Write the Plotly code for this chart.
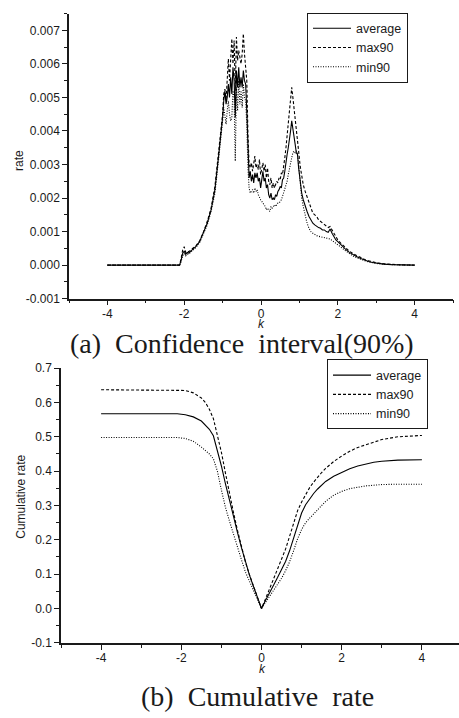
import numpy as np
import plotly.graph_objects as go

# ---------------- (a) rate, values in units of 1e-3 ----------------
k_a = [-4.0, -2.12, -2.08, -2.04, -2.0, -1.96, -1.92, -1.88, -1.8, -1.7, -1.6, -1.5, -1.4, -1.3, -1.2, -1.1, -1.05, -1.0,
       -0.97, -0.94, -0.91, -0.88, -0.85, -0.82, -0.79, -0.76, -0.73, -0.70, -0.67, -0.64, -0.61, -0.58, -0.55, -0.52,
       -0.49, -0.46, -0.43, -0.40, -0.37, -0.34, -0.31, -0.28, -0.25, -0.22, -0.19, -0.16, -0.13, -0.10, -0.07, -0.04,
       -0.01, 0.02, 0.05, 0.08, 0.11, 0.14, 0.17, 0.20, 0.23, 0.26, 0.29, 0.32, 0.35, 0.38, 0.41, 0.44, 0.47, 0.50,
       0.53, 0.56, 0.59, 0.62, 0.65, 0.68, 0.71, 0.74, 0.77, 0.80, 0.83, 0.86, 0.89, 0.92, 0.95, 0.98, 1.02, 1.06,
       1.10, 1.15, 1.20, 1.25, 1.30, 1.35, 1.40, 1.45, 1.50, 1.55, 1.60, 1.65, 1.70, 1.75, 1.80, 1.85, 1.90, 1.95,
       2.0, 2.1, 2.2, 2.3, 2.4, 2.5, 2.6, 2.7, 2.8, 2.9, 3.0, 3.2, 3.4, 3.6, 3.8, 4.0]

avg_a_e3 = [0, 0, 0.15, 0.35, 0.42, 0.32, 0.38, 0.36, 0.45, 0.55, 0.70, 0.95, 1.25, 1.65, 2.25, 3.3, 3.8, 4.4,
            4.9, 5.2, 4.8, 5.0, 5.4, 5.0, 5.6, 5.1, 5.9, 5.5, 4.4, 5.8, 5.3, 5.9, 5.3, 5.6,
            5.3, 5.8, 5.5, 5.4, 4.6, 3.3, 2.6, 2.8, 2.5, 2.7, 2.45, 2.75, 2.6, 2.75, 2.5, 2.6,
            2.3, 2.55, 2.8, 2.5, 2.6, 2.3, 2.4, 2.1, 2.0, 2.15, 1.95, 2.0, 1.95, 2.1, 2.05, 2.2, 2.25, 2.35,
            2.3, 2.55, 2.6, 2.8, 3.1, 3.3, 3.5, 3.7, 4.0, 4.3, 4.1, 3.9, 3.6, 3.35, 3.3, 2.9, 2.45, 2.15,
            1.95, 1.75, 1.6, 1.45, 1.35, 1.25, 1.2, 1.15, 1.12, 1.1, 1.05, 1.05, 1.0, 0.98, 1.08, 0.95, 0.85, 0.75,
            0.7, 0.58, 0.48, 0.38, 0.31, 0.25, 0.2, 0.15, 0.11, 0.08, 0.06, 0.03, 0.015, 0.008, 0.003, 0.001]

max_a_e3 = [0, 0, 0.2, 0.45, 0.55, 0.38, 0.42, 0.40, 0.48, 0.57, 0.72, 0.98, 1.30, 1.70, 2.35, 3.4, 3.95, 4.5,
            5.1, 5.25, 4.9, 5.6, 6.15, 5.5, 6.3, 6.75, 6.0, 6.7, 5.2, 6.8, 6.1, 6.4, 6.2, 6.0,
            6.3, 6.9, 6.3, 5.9, 5.5, 3.9, 3.0, 2.9, 3.05, 2.8, 3.1, 3.25, 2.9, 3.0, 2.85, 3.15,
            2.7, 2.95, 3.05, 2.8, 3.0, 2.6, 2.9, 2.5, 2.4, 2.6, 2.3, 2.45, 2.3, 2.4, 2.5, 2.45, 2.6, 2.55,
            2.75, 2.7, 2.9, 3.2, 3.5, 3.9, 4.3, 4.7, 5.0, 5.3, 5.0, 4.7, 4.4, 4.15, 3.8, 3.4, 2.95, 2.6,
            2.4, 2.2, 2.05, 1.85, 1.7, 1.55, 1.5, 1.45, 1.35, 1.3, 1.25, 1.2, 1.15, 1.12, 1.15, 1.05, 0.92, 0.82,
            0.75, 0.63, 0.52, 0.42, 0.34, 0.28, 0.22, 0.17, 0.13, 0.10, 0.07, 0.04, 0.02, 0.01, 0.004, 0.001]

min_a_e3 = [0, 0, 0.1, 0.28, 0.35, 0.28, 0.33, 0.33, 0.42, 0.52, 0.67, 0.92, 1.20, 1.60, 2.15, 3.2, 3.7, 4.3,
            4.7, 4.45, 4.2, 4.6, 4.9, 4.5, 4.3, 4.4, 5.2, 5.0, 3.1, 5.3, 4.6, 5.5, 4.8, 5.2,
            4.7, 5.4, 5.0, 4.9, 4.2, 2.9, 2.3, 2.15, 2.2, 2.25, 2.15, 2.3, 2.2, 2.25, 2.1, 2.0,
            1.95, 1.9, 1.85, 1.8, 1.75, 1.65, 1.7, 1.65, 1.6, 1.75, 1.7, 1.75, 1.8, 1.75, 1.8, 1.85, 1.85, 1.9,
            1.95, 2.05, 2.15, 2.25, 2.35, 2.5, 2.7, 2.9, 3.05, 3.2, 3.35, 3.4, 3.35, 3.4, 3.35, 3.0, 2.45, 2.0,
            1.75, 1.45, 1.25, 1.1, 1.0, 0.95, 0.9, 0.88, 0.86, 0.85, 0.84, 0.83, 0.82, 0.8, 0.78, 0.74, 0.7, 0.66,
            0.62, 0.52, 0.43, 0.34, 0.27, 0.22, 0.17, 0.13, 0.10, 0.07, 0.05, 0.025, 0.012, 0.006, 0.002, 0.0]

# ---------------- (b) cumulative rate ----------------
k_b = [-4.0, -2.1, -1.9, -1.7, -1.5, -1.4, -1.3, -1.2, -1.1, -1.0, -0.9, -0.8, -0.7, -0.6, -0.5, -0.4, -0.3, -0.2,
       -0.1, 0.0, 0.1, 0.2, 0.3, 0.4, 0.5, 0.6, 0.7, 0.8, 0.9, 1.0, 1.1, 1.2, 1.3, 1.4, 1.5, 1.6, 1.8, 2.0, 2.2,
       2.4, 2.6, 2.8, 3.0, 3.4, 4.0]
avg_b = [0.567, 0.567, 0.564, 0.558, 0.546, 0.535, 0.522, 0.503, 0.462, 0.415, 0.364, 0.314, 0.268, 0.222, 0.177,
         0.133, 0.097, 0.064, 0.032, 0.0, 0.023, 0.047, 0.068, 0.09, 0.112, 0.137, 0.168, 0.205, 0.245, 0.278,
         0.302, 0.32, 0.335, 0.348, 0.36, 0.37, 0.385, 0.397, 0.407, 0.415, 0.421, 0.426, 0.429, 0.432, 0.433]
max_b = [0.637, 0.637, 0.635, 0.628, 0.613, 0.600, 0.580, 0.553, 0.505, 0.455, 0.395, 0.335, 0.280, 0.228, 0.180,
         0.135, 0.098, 0.065, 0.033, 0.0, 0.028, 0.057, 0.085, 0.115, 0.143, 0.173, 0.21, 0.25, 0.285, 0.31,
         0.333, 0.352, 0.368, 0.383, 0.396, 0.408, 0.428, 0.444, 0.458, 0.469, 0.477, 0.486, 0.492, 0.5, 0.504]
min_b = [0.498, 0.498, 0.495, 0.487, 0.470, 0.460, 0.450, 0.436, 0.400, 0.345, 0.295, 0.255, 0.215, 0.178, 0.142,
         0.106, 0.078, 0.052, 0.026, 0.0, 0.017, 0.035, 0.052, 0.069, 0.088, 0.11, 0.136, 0.168, 0.203, 0.23,
         0.25, 0.263, 0.276, 0.289, 0.3, 0.312, 0.33, 0.341, 0.349, 0.354, 0.357, 0.359, 0.361, 0.362, 0.362]

series_names = ["average", "max90", "min90"]
x_tick_vals = [-4, -2, 0, 2, 4]
x_tick_text = ["-4", "-2", "0", "2", "4"]
ya_tick_vals = [-0.001, 0.0, 0.001, 0.002, 0.003, 0.004, 0.005, 0.006, 0.007]
ya_tick_text = ["-0.001", "0.000", "0.001", "0.002", "0.003", "0.004", "0.005", "0.006", "0.007"]
yb_tick_vals = [-0.1, 0.0, 0.1, 0.2, 0.3, 0.4, 0.5, 0.6, 0.7]
yb_tick_text = ["-0.1", "0.0", "0.1", "0.2", "0.3", "0.4", "0.5", "0.6", "0.7"]

W, H = 459, 718
FONT = "Liberation Sans, Arial, sans-serif"
INK = "#1a1a1a"

styles = [dict(color="black", width=1.1, dash="solid"),
          dict(color="black", width=1.1, dash="3px,2px"),
          dict(color="black", width=1.1, dash="1px,1.5px")]

fig = go.Figure()
ya_series = [np.array(avg_a_e3) * 1e-3, np.array(max_a_e3) * 1e-3, np.array(min_a_e3) * 1e-3]
for name, ys, st in zip(series_names, ya_series, styles):
    fig.add_trace(go.Scatter(x=k_a, y=ys, mode="lines", name=name, line=st,
                             xaxis="x", yaxis="y", legend="legend"))
yb_series = [avg_b, max_b, min_b]
for name, ys, st in zip(series_names, yb_series, styles):
    fig.add_trace(go.Scatter(x=k_b, y=ys, mode="lines", name=name, line=st,
                             xaxis="x2", yaxis="y2", legend="legend2"))


def px_x(x):
    return x / W


def px_y(y):
    return 1 - y / H


axis_common = dict(showline=True, linecolor=INK, linewidth=1.5, ticks="outside", ticklen=5,
                   tickwidth=1.2, tickcolor=INK, showgrid=False, zeroline=False, mirror=False,
                   tickfont=dict(family=FONT, size=12, color=INK))

fig.update_layout(
    width=W, height=H, autosize=False,
    margin=dict(l=0, r=0, t=0, b=0),
    paper_bgcolor="white", plot_bgcolor="white",
    xaxis=dict(domain=[px_x(69), px_x(453)], anchor="y", range=[-5, 5],
               tickmode="array", tickvals=x_tick_vals, ticktext=x_tick_text, ticklabelstandoff=-2,
               minor=dict(ticks="outside", ticklen=3, tickcolor=INK, dtick=1, tick0=0), **axis_common),
    yaxis=dict(domain=[px_y(297.5), px_y(6.7)], anchor="x", range=[-0.001, 0.0075],
               tickmode="array", tickvals=ya_tick_vals, ticktext=ya_tick_text,
               minor=dict(ticks="outside", ticklen=3, tickcolor=INK, dtick=0.0005, tick0=0), **axis_common),
    xaxis2=dict(domain=[px_x(61), 1.0], anchor="y2", range=[-5, 4.925],
                tickmode="array", tickvals=x_tick_vals, ticktext=x_tick_text, ticklabelstandoff=-2,
                minor=dict(ticks="outside", ticklen=3, tickcolor=INK, dtick=1, tick0=0), **axis_common),
    yaxis2=dict(domain=[px_y(648.5), px_y(368.3)], anchor="x2", range=[-0.1, 0.7],
                tickmode="array", tickvals=yb_tick_vals, ticktext=yb_tick_text,
                minor=dict(ticks="outside", ticklen=3, tickcolor=INK, dtick=0.05, tick0=0), **axis_common),
    legend=dict(x=px_x(307), y=px_y(5.7), xanchor="left", yanchor="top",
                bordercolor=INK, borderwidth=1, bgcolor="white", itemwidth=38,
                font=dict(family=FONT, size=12.5, color=INK)),
    legend2=dict(x=px_x(327), y=px_y(359.5), xanchor="left", yanchor="top",
                 bordercolor=INK, borderwidth=1, bgcolor="white", itemwidth=38,
                 font=dict(family=FONT, size=12.5, color=INK)),
)

NB = "\u00a0"
annots = [
    dict(text="rate", x=px_x(19), y=px_y(157), textangle=-90, font=dict(family=FONT, size=12, color=INK)),
    dict(text="<i>k</i>", x=px_x(261), y=px_y(323.5), font=dict(family=FONT, size=12, color=INK)),
    dict(text="(a)" + NB + NB + "Confidence" + NB + NB + "interval(90%)", x=px_x(242), y=px_y(343.5),
         font=dict(family="Liberation Serif, DejaVu Serif, serif", size=28, color=INK)),
    dict(text="Cumulative rate", x=px_x(21.5), y=px_y(500), textangle=-90,
         font=dict(family=FONT, size=12, color=INK)),
    dict(text="<i>k</i>", x=px_x(262), y=px_y(675.5), font=dict(family=FONT, size=12, color=INK)),
    dict(text="(b)" + NB + NB + "Cumulative" + NB + NB + "rate", x=px_x(257), y=px_y(703),
         font=dict(family="Liberation Serif, DejaVu Serif, serif", size=28, color=INK)),
]
for a in annots:
    fig.add_annotation(xref="paper", yref="paper", xanchor="center", yanchor="middle",
                       showarrow=False, **a)

fig.write_html("out.html", config={"displayModeBar": False},
               post_script="document.body.style.margin='0';document.body.style.padding='0';"
                           "document.body.style.overflow='hidden';")
